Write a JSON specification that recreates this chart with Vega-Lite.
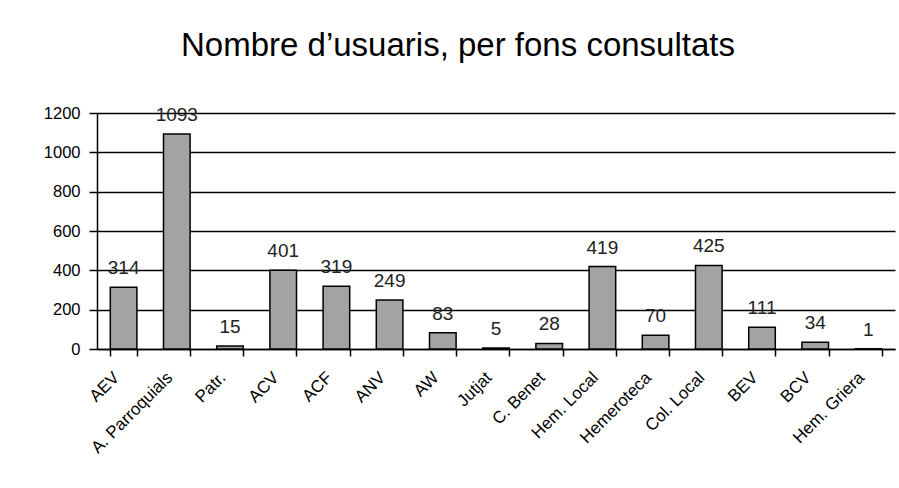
{
  "$schema": "https://vega.github.io/schema/vega-lite/v6.json",
  "autosize": {"type": "none"},
  "width": 798,
  "height": 236,
  "padding": {"left": 97, "top": 113, "right": 4, "bottom": 139},
  "background": "white",
  "title": {
    "text": "Nombre d’usuaris, per fons consultats",
    "font": "Liberation Sans",
    "fontSize": 33,
    "fontWeight": "normal",
    "color": "black",
    "anchor": "middle",
    "baseline": "alphabetic",
    "dx": -38,
    "offset": 16
  },
  "data": {
    "values": [
      {"fons": "AEV", "usuaris": 314},
      {"fons": "A. Parroquials", "usuaris": 1093},
      {"fons": "Patr.", "usuaris": 15},
      {"fons": "ACV", "usuaris": 401},
      {"fons": "ACF", "usuaris": 319},
      {"fons": "ANV", "usuaris": 249},
      {"fons": "AW", "usuaris": 83},
      {"fons": "Jutjat", "usuaris": 5},
      {"fons": "C. Benet", "usuaris": 28},
      {"fons": "Hem. Local", "usuaris": 419},
      {"fons": "Hemeroteca", "usuaris": 70},
      {"fons": "Col. Local", "usuaris": 425},
      {"fons": "BEV", "usuaris": 111},
      {"fons": "BCV", "usuaris": 34},
      {"fons": "Hem. Griera", "usuaris": 1}
    ]
  },
  "encoding": {
    "x": {
      "field": "fons",
      "type": "nominal",
      "sort": null,
      "scale": {"paddingInner": 0.5, "paddingOuter": 0.25},
      "axis": {
        "title": null,
        "labelAngle": -45,
        "labelFont": "Liberation Sans",
        "labelFontSize": 17,
        "labelColor": "black",
        "labelPadding": 13,
        "labelOffset": -13,
        "tickBand": "extent",
        "tickSize": 7,
        "tickColor": "black",
        "tickWidth": 1.5,
        "domainColor": "black",
        "domainWidth": 1.5,
        "grid": false
      }
    },
    "y": {
      "field": "usuaris",
      "type": "quantitative",
      "scale": {"domain": [0, 1200], "nice": false},
      "axis": {
        "title": null,
        "values": [0, 200, 400, 600, 800, 1000, 1200],
        "format": "d",
        "labelFont": "Liberation Sans",
        "labelFontSize": 16.5,
        "labelColor": "black",
        "labelPadding": 9,
        "tickSize": 8,
        "tickColor": "black",
        "tickWidth": 1.5,
        "domainColor": "black",
        "domainWidth": 1.5,
        "grid": true,
        "gridColor": "black",
        "gridWidth": 1.5,
        "gridOpacity": 1
      }
    }
  },
  "layer": [
    {
      "mark": {"type": "bar", "color": "#a3a3a3", "stroke": "black", "strokeWidth": 1.5}
    },
    {
      "mark": {
        "type": "text",
        "font": "Liberation Sans",
        "fontSize": 19,
        "color": "#222",
        "baseline": "bottom",
        "dy": -9
      },
      "encoding": {"text": {"field": "usuaris", "type": "quantitative"}}
    }
  ],
  "config": {"view": {"stroke": null}}
}
